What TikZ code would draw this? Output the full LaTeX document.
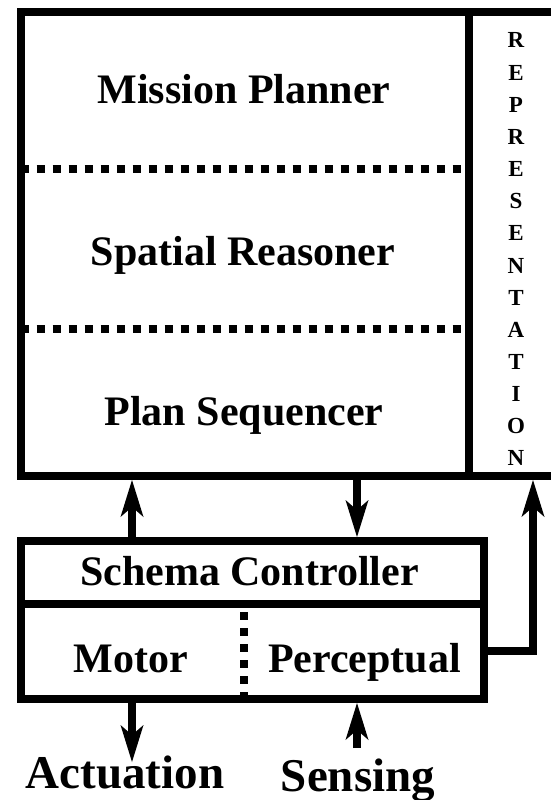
\documentclass[tikz,border=0pt]{standalone}
\usepackage{fontspec}
\setmainfont{Liberation Serif}
\usetikzlibrary{arrows.meta}
\begin{document}
\begin{tikzpicture}[x=1pt,y=-1pt,
  box/.style={draw, line width=8pt, inner sep=0pt},
  lbl/.style={font=\fontsize{42}{42}\selectfont\bfseries, inner sep=0pt, anchor=base},
  biglbl/.style={font=\fontsize{47}{47}\selectfont\bfseries, inner sep=0pt, anchor=base},
  replbl/.style={font=\fontsize{23}{23}\selectfont\bfseries, inner sep=0pt, anchor=base},
  dotline/.style={line width=8pt, dash pattern=on 8pt off 8pt},
  arr/.style={line width=8pt, -{Stealth[length=37pt,width=23pt,inset=10pt,line width=0pt]}}
]
\useasboundingbox (0,0) rectangle (551,800);

% boxes
\node[box, minimum width=448pt, minimum height=463.5pt] (main) at (245,244.25) {};
\node[box, minimum width=131pt, minimum height=463.5pt] (rep) at (534.5,244.25) {};
\node[box, minimum width=463pt, minimum height=63pt] (schema) at (252.5,572.5) {};
\node[box, minimum width=463pt, minimum height=95pt] (lower) at (252.5,651.5) {};

% helper coordinates
\coordinate (xa) at (132,0);
\coordinate (xb) at (357,0);
\coordinate (xr) at (533,0);
\coordinate (xd) at (244,0);
\coordinate (yp) at (0,651);
\coordinate (d1) at (0,169);
\coordinate (d2) at (0,329);
\coordinate (actEnd) at (132,762);
\coordinate (senStart) at (357,748);

% dotted separators
\draw[dotline, dash phase=12.5pt] (main.west |- d1) -- (rep.west |- d1);
\draw[dotline, dash phase=12.5pt] (main.west |- d2) -- (rep.west |- d2);
\draw[dotline, dash phase=4pt] (xd |- lower.north) -- (xd |- lower.south);

% labels
\node[lbl] (mp) at (244,103) {Mission Planner};
\node[lbl] (sr) at (243,265) {Spatial Reasoner};
\node[lbl] (ps) at (244,425) {Plan Sequencer};
\node[lbl] (sc) at (249.5,585) {Schema Controller};
\node[lbl] (mo) at (131,672) {Motor};
\node[lbl] (pe) at (364.5,672) {Perceptual};
\node[biglbl] (ac) at (125,788) {Actuation};
\node[biglbl] (se) at (358,791) {Sensing};

\foreach \l [count=\i from 0] in {R,E,P,R,E,S,E,N,T,A,T,I,O,N}
  \node[replbl] (r\i) at (516,{48+32.15*\i}) {\l};

% connectors
\draw[arr] (xa |- schema.north) -- (xa |- main.south);
\draw[arr] (xb |- main.south) -- (xb |- schema.north);
\draw[arr] (xa |- lower.south) -- (actEnd);
\draw[arr] (senStart) -- (xb |- lower.south);
\draw[arr] (lower.east |- yp) -| (xr |- rep.south);
\end{tikzpicture}
\end{document}
